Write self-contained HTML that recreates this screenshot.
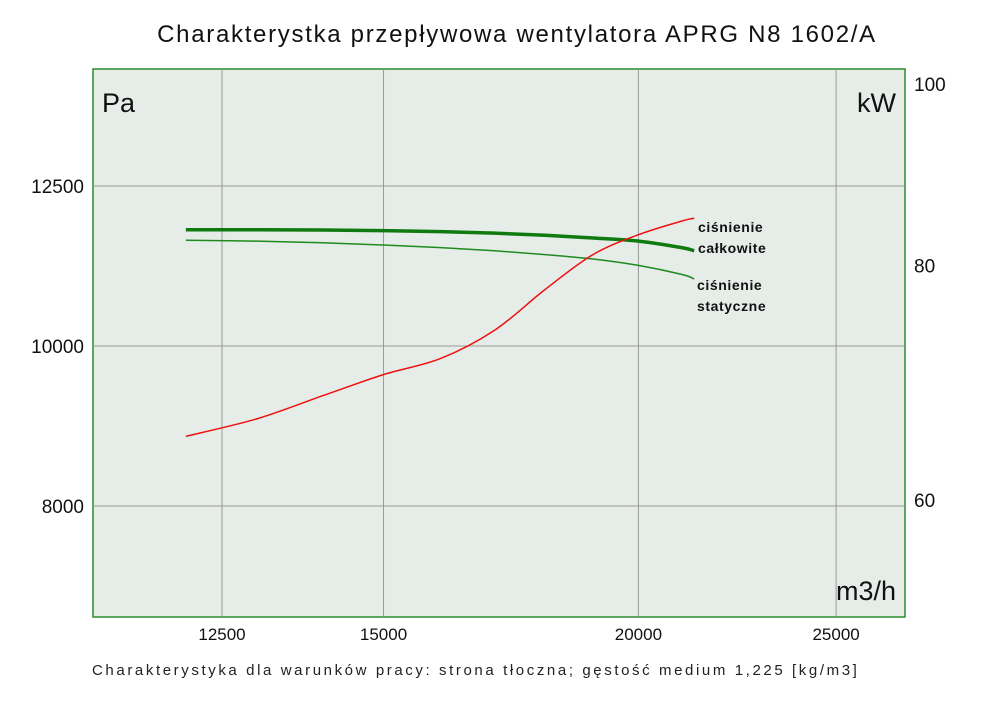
<!DOCTYPE html>
<html><head><meta charset="utf-8">
<style>
body{margin:0;background:#fff;width:1000px;height:706px;overflow:hidden;font-family:"Liberation Sans",sans-serif;}
svg text{font-family:"Liberation Sans",sans-serif;}
</style></head>
<body>
<svg id="chart" width="1000" height="706" xmlns="http://www.w3.org/2000/svg">
<text x="517" y="42" font-size="24" text-anchor="middle" fill="#111" letter-spacing="1.7">Charakterystka przepływowa wentylatora APRG N8 1602/A</text>
<rect x="93" y="69" width="812" height="548" fill="#e6ede8" stroke="#2a8a2a" stroke-width="1.5"/>
<g id="grid"></g>
<g id="ticks"></g>
<g id="series"></g>
<text x="102" y="112" font-size="27" fill="#111">Pa</text>
<text x="896" y="112" font-size="27" fill="#111" text-anchor="end">kW</text>
<text x="896" y="600" font-size="27" fill="#111" text-anchor="end">m3/h</text>
<text font-size="14" font-weight="bold" fill="#111" letter-spacing="0.6"><tspan x="698" y="232">ciśnienie</tspan><tspan x="698" y="253">całkowite</tspan></text>
<text font-size="14" font-weight="bold" fill="#111" letter-spacing="0.6"><tspan x="697" y="290">ciśnienie</tspan><tspan x="697" y="311">statyczne</tspan></text>
<text x="92" y="675" font-size="15" fill="#222" letter-spacing="2.6">Charakterystyka dla warunków pracy: strona tłoczna; gęstość medium 1,225 [kg/m3]</text>
</svg>
<script>
const flows = [12000,13000,14000,15000,16000,17000,18000,19000,20000,21000,21300];
const totalPressure = [11760,11760,11755,11745,11730,11705,11670,11625,11575,11470,11420];
const staticPressure = [11590,11575,11548,11512,11470,11420,11360,11290,11190,11050,10980];
const power = [64.8,66.2,68.1,69.9,71.3,73.8,77.6,81.0,83.0,84.4,84.7];
const xTicks = [12500,15000,20000,25000];
const yLeftTicks = [8000,10000,12500];
const yRightTicks = [60,80,100];

const X = q => 222 + 2040*Math.log10(q/12500);
const YL = p => 186 - 1651*Math.log10(p/12500);
const YR = k => 83 - 1875*Math.log10(k/100);
const NS = "http://www.w3.org/2000/svg";
const mk = (tag, attrs, parent) => { const e = document.createElementNS(NS, tag); for (const k in attrs) e.setAttribute(k, attrs[k]); parent.appendChild(e); return e; };
const grid = document.getElementById('grid'), ticks = document.getElementById('ticks'), series = document.getElementById('series');

xTicks.forEach(v => {
  const l = mk('line', {x1:X(v), x2:X(v), y1:69, y2:617, stroke:'#999', 'stroke-width':1}, grid);
  
  
  const t = mk('text', {x:X(v), y:640, 'font-size':17, 'text-anchor':'middle', fill:'#111'}, ticks);
  t.textContent = v;
  
  
});
yLeftTicks.forEach(v => {
  const l = mk('line', {x1:93, x2:905, y1:YL(v), y2:YL(v), stroke:'#999', 'stroke-width':1}, grid);
  
  
  const t = mk('text', {x:84, y:YL(v)+7, 'font-size':19, 'text-anchor':'end', fill:'#111'}, ticks);
  t.textContent = v;
  
  
});
yRightTicks.forEach(v => {
  const t = mk('text', {x:914, y:YR(v)+8, 'font-size':19, fill:'#111'}, ticks);
  t.textContent = v;
  
  
});

function smooth(pts){
  let d = `M${pts[0][0]},${pts[0][1]}`;
  for (let i=0;i<pts.length-1;i++){
    const p0=pts[Math.max(0,i-1)], p1=pts[i], p2=pts[i+1], p3=pts[Math.min(pts.length-1,i+2)];
    const c1=[p1[0]+(p2[0]-p0[0])/6, p1[1]+(p2[1]-p0[1])/6];
    const c2=[p2[0]-(p3[0]-p1[0])/6, p2[1]-(p3[1]-p1[1])/6];
    d += ` C${c1[0]},${c1[1]} ${c2[0]},${c2[1]} ${p2[0]},${p2[1]}`;
  }
  return d;
}
const sp = mk('path', {d:smooth(flows.map((q,i)=>[X(q),YL(staticPressure[i])])), fill:'none', stroke:'#1f8a1f', 'stroke-width':1.5}, series);


const tp = mk('path', {d:smooth(flows.map((q,i)=>[X(q),YL(totalPressure[i])])), fill:'none', stroke:'#0f7a0f', 'stroke-width':3.5}, series);


const pw = mk('path', {d:smooth(flows.map((q,i)=>[X(q),YR(power[i])])), fill:'none', stroke:'#ee1111', 'stroke-width':1.5}, series);


</script>
</body></html>
